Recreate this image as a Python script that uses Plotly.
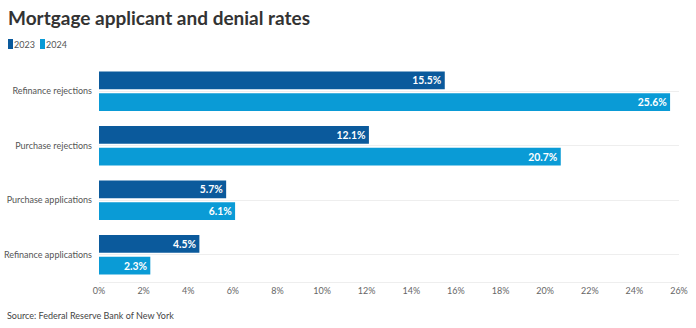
import plotly.graph_objects as go

# Mortgage activity rates by year (percent)
categories = ["Refinance rejections", "Purchase rejections",
              "Purchase applications", "Refinance applications"]
years = ["2023", "2024"]
rates_2023 = [15.5, 12.1, 5.7, 4.5]
rates_2024 = [25.6, 20.7, 6.1, 2.3]
tick_vals = list(range(0, 27, 2))
tick_text = [f"{v}%" for v in tick_vals]

colors = {"2023": "#0b5a9c", "2024": "#0a9bd6"}
font_family = "Lato, 'Open Sans', sans-serif"

W, H = 696, 328
ML, MR, MT, MB = 99, 17, 64, 46
PW, PH = W - ML - MR, H - MT - MB


def px_x(x):
    """Pixel x in the page -> paper coordinate."""
    return (x - ML) / PW


def px_y(y):
    """Pixel y (from top) in the page -> paper coordinate."""
    return (H - MB - y) / PH


fig = go.Figure()
for year, vals in zip(years, [rates_2023, rates_2024]):
    fig.add_trace(go.Bar(
        name=year,
        y=categories,
        x=vals,
        orientation="h",
        marker=dict(color=colors[year], line=dict(width=0)),
        text=[f"{v:.1f}%" for v in vals],
        textposition="inside",
        insidetextanchor="end",
        textfont=dict(color="white", size=10.5, family=font_family, weight="bold"),
        cliponaxis=False,
        hoverinfo="skip",
    ))

fig.update_layout(
    width=W, height=H,
    margin=dict(l=ML, r=MR, t=MT, b=MB, autoexpand=False),
    paper_bgcolor="white", plot_bgcolor="white",
    barmode="group",
    bargap=0.2,
    bargroupgap=0.18,
    showlegend=False,
    font=dict(family=font_family, color="#555"),
    title=dict(
        text="<b>Mortgage applicant and denial rates</b>",
        x=8 / W, xanchor="left", xref="container",
        y=1 - 18 / H, yanchor="middle", yref="container",
        font=dict(size=19, color="#333", family=font_family),
    ),
    xaxis=dict(
        range=[0, 26],
        tickvals=tick_vals, ticktext=tick_text,
        showgrid=False, zeroline=False,
        showline=True, linecolor="#eeeeee", linewidth=1,
        ticks="", tickfont=dict(size=9, color="#666"),
        automargin=False,
        fixedrange=True,
    ),
    yaxis=dict(
        categoryorder="array", categoryarray=categories,
        autorange="reversed",
        showgrid=True, gridcolor="#eeeeee", gridwidth=1,
        zeroline=False, showline=False,
        ticks="", ticklabelstandoff=6,
        tickfont=dict(size=9, color="#555"),
        automargin=False,
        fixedrange=True,
    ),
)

# Compact legend: small rounded swatch followed by the year label
for i, year in enumerate(years):
    x0 = 8 + i * 32
    fig.add_shape(
        type="rect", xref="paper", yref="paper",
        x0=px_x(x0), x1=px_x(x0 + 5),
        y0=px_y(49), y1=px_y(39),
        fillcolor=colors[year], line=dict(width=0),
    )
    fig.add_annotation(
        text=year, xref="paper", yref="paper",
        x=px_x(x0 + 6), xanchor="left",
        y=px_y(44), yanchor="middle",
        showarrow=False, font=dict(size=9, color="#555", family=font_family),
        xshift=-2,
    )

fig.add_annotation(
    text="Source: Federal Reserve Bank of New York",
    xref="paper", yref="paper",
    x=px_x(7), xanchor="left",
    y=px_y(315), yanchor="middle",
    showarrow=False, font=dict(size=9, color="#444", family=font_family),
    xshift=-2,
)

fig.write_html("out.html")
